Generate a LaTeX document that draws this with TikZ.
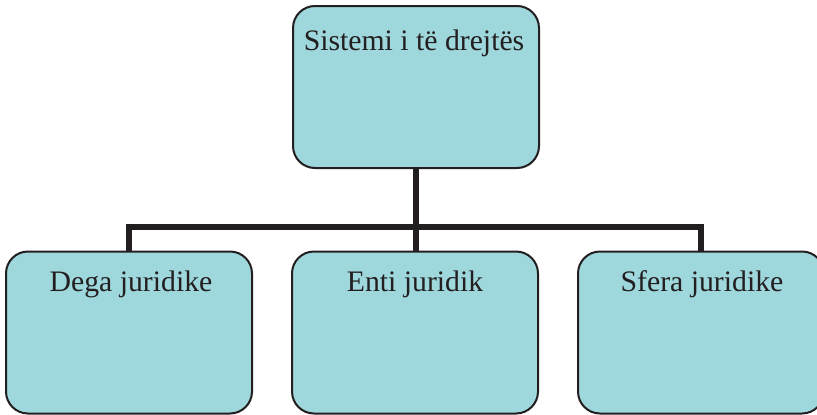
\documentclass[tikz,border=0pt]{standalone}
\usepackage{fontspec}
\setmainfont{Liberation Serif}
\definecolor{boxc}{RGB}{158,216,220}
\definecolor{linec}{RGB}{35,31,32}
\begin{document}
\begin{tikzpicture}[x=0.75pt,y=-0.75pt,
  box/.style={rectangle,draw=linec,line width=1.5pt,fill=boxc,rounded corners=16.5pt,
    minimum width=184.5pt,minimum height=121.5pt,inner sep=0pt},
  lbl/.style={anchor=base,font=\fontsize{22.3}{25}\selectfont,text=linec,inner sep=0pt},
  conn/.style={draw=linec,line width=4.5pt}]
\useasboundingbox (0,0) rectangle (817,414);
\clip (0,0) rectangle (817,414);
\node[box] (top) at (416,87) {};
\node[box] (b1) at (129,332.5) {};
\node[box] (b2) at (415,332.5) {};
\node[box] (b3) at (701,332.5) {};
\coordinate (j) at (416,227);
\draw[conn] (top.south) -- (j);
\draw[conn] (b1.north) -- (b1.north |- j) -- (b3.north |- j) -- (b3.north);
\draw[conn] (b2.north -| j) -- (j);
\node[lbl] (t0) at (414,50) {Sistemi i të drejtës};
\node[lbl] (t1) at (131,291) {Dega juridike};
\node[lbl] (t2) at (415,291) {Enti juridik};
\node[lbl] (t3) at (702,291) {Sfera juridike};
\end{tikzpicture}
\end{document}
